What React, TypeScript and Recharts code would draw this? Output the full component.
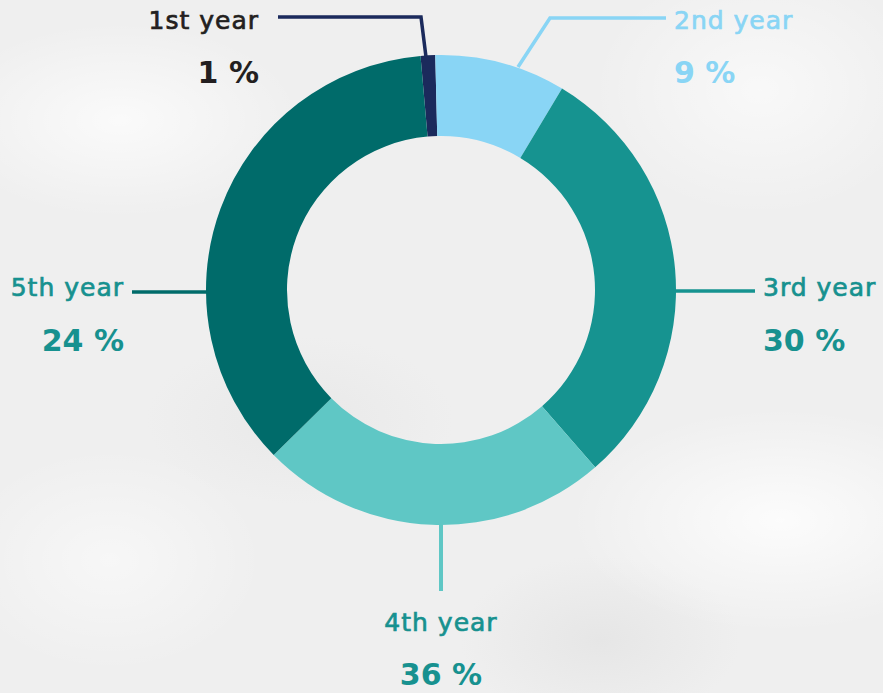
import React from 'react';
import { PieChart, Pie, Cell } from 'recharts';

// slice sizes as drawn in the picture, and the percentages printed beside them
const years = ['1st year', '2nd year', '3rd year', '4th year', '5th year'];
const shares = [1, 9, 30, 24, 36];
const printed = ['1 %', '9 %', '30 %', '36 %', '24 %'];
const sliceColors = ['#1B2A5C', '#89D5F5', '#169390', '#5FC7C5', '#006B6A'];
const textColors = ['#231F20', '#89D5F5', '#17918F', '#17918F', '#17918F'];

const data = years.map((name, i) => ({ name, value: shares[i], pct: printed[i] }));

// where each label block and its leader line sit
const labelLayout = [
  { x: 259, anchor: 'end', nameY: 29, pctY: 83, line: '278,17 421,17 426,57' },
  { x: 674, anchor: 'start', nameY: 29, pctY: 83, line: '666,18 550,18 518,67' },
  { x: 763, anchor: 'start', nameY: 296, pctY: 351, line: '675,291 755,291' },
  { x: 441, anchor: 'middle', nameY: 631, pctY: 685, line: '441,524 441,591' },
  { x: 124, anchor: 'end', nameY: 296, pctY: 351, line: '132,292 208,292' },
];

const renderLabel = (props: any) => {
  const i = props.index;
  const l = labelLayout[i];
  return (
    <g key={`lbl-${i}`}>
      <polyline points={l.line} fill="none" stroke={sliceColors[i]} strokeWidth={i === 3 ? 4 : 3.5} />
      <text x={l.x} y={l.nameY} textAnchor={l.anchor} fill={textColors[i]} stroke={textColors[i]} strokeWidth={0.7}
        fontSize={25} letterSpacing={1} fontFamily="'DejaVu Sans', sans-serif">
        {years[i]}
      </text>
      <text x={l.x} y={l.pctY} textAnchor={l.anchor} fill={textColors[i]} fontSize={30} fontWeight="bold"
        fontFamily="'DejaVu Sans', sans-serif">
        {printed[i]}
      </text>
    </g>
  );
};

const paper =
  'radial-gradient(ellipse 260px 140px at 120px 120px, rgba(255,255,255,0.7), rgba(255,255,255,0) 70%),' +
  'radial-gradient(ellipse 300px 160px at 780px 520px, rgba(255,255,255,0.8), rgba(255,255,255,0) 70%),' +
  'radial-gradient(ellipse 240px 180px at 760px 90px, rgba(255,255,255,0.6), rgba(255,255,255,0) 70%),' +
  'radial-gradient(ellipse 220px 160px at 110px 560px, rgba(255,255,255,0.5), rgba(255,255,255,0) 70%),' +
  'radial-gradient(ellipse 200px 120px at 600px 640px, rgba(224,224,224,0.6), rgba(224,224,224,0) 70%),' +
  'radial-gradient(ellipse 220px 120px at 300px 420px, rgba(226,226,226,0.5), rgba(226,226,226,0) 70%),' +
  '#efefef';

const App: React.FC = () => (
  <div style={{ position: 'absolute', left: 0, top: 0, width: 883, height: 693, background: paper, overflow: 'hidden' }}>
    <PieChart width={883} height={693} margin={{ top: 0, right: 0, bottom: 0, left: 0 }}>
      <Pie
        data={data}
        dataKey="value"
        nameKey="name"
        cx={441}
        cy={290}
        outerRadius={235}
        innerRadius={154}
        startAngle={95}
        endAngle={-265}
        stroke="none"
        label={renderLabel}
        labelLine={false}
        isAnimationActive={false}
      >
        {data.map((d, i) => (
          <Cell key={d.name} fill={sliceColors[i]} />
        ))}
      </Pie>
    </PieChart>
  </div>
);

export default App;
